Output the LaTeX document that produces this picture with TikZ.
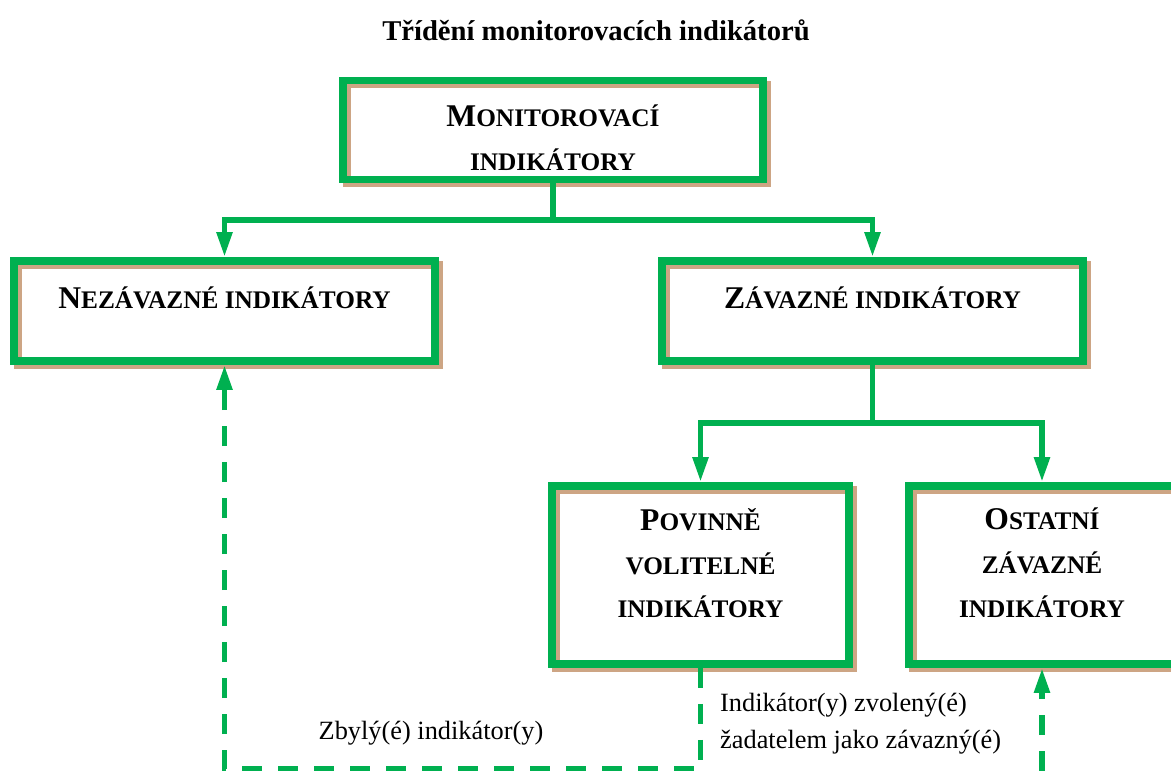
\documentclass[tikz,border=0pt]{standalone}
\usepackage{fontspec}
\setmainfont{Liberation Serif}
\usepackage{xcolor}
\usepackage{tikz}
\usetikzlibrary{arrows.meta,positioning}
\definecolor{zelena}{RGB}{0,176,80}
\definecolor{stin}{RGB}{205,165,132}
\newcommand{\kap}[2]{{\fontsize{18}{25}\selectfont #1}{\fontsize{14.4}{25}\selectfont #2}}

\begin{document}
\begin{tikzpicture}[x=0.02cm,y=-0.02cm]
	\tikzstyle{box} = [draw = zelena, line width = 0.15cm, align = center,
		font = \fontsize{18}{25}\selectfont\bfseries,
		preaction = {draw = stin, transform canvas = {shift = {(4,4)}}}]
	\tikzstyle{conn} = [draw = zelena, line width = 0.11cm, -{Triangle[length = 0.5cm, width = 0.3cm]}]
	\tikzstyle{dline} = [conn, dash pattern = on 0.4cm off 0.32cm]
	\tikzstyle{popis} = [font = \fontsize{15}{21}\selectfont]
\useasboundingbox (0,0) rectangle (1171,771);
\node[font = \fontsize{16.3}{20}\selectfont\bfseries] (title) at (596,30) {Třídění monitorovacích indikátorů};
\node[box, minimum width = 8.4cm, minimum height = 1.98cm] (mon) at (553,130) {\rule{0pt}{0.74cm}\kap{M}{ONITOROVACÍ}\\ \kap{}{INDIKÁTORY}};
\node[box, minimum width = 8.43cm, minimum height = 2.01cm] (nez) at (224.5,311) {\kap{N}{EZÁVAZNÉ INDIKÁTORY}\\[-0.35cm]\mbox{}};
\node[box, minimum width = 8.43cm, minimum height = 2.01cm] (zav) at (872.5,311) {\kap{Z}{ÁVAZNÉ INDIKÁTORY}\\[-0.35cm]\mbox{}};
\node[box, minimum width = 5.95cm, minimum height = 3.57cm] (pov) at (700.5,575) {\kap{P}{OVINNĚ}\\ \kap{}{VOLITELNÉ}\\ \kap{}{INDIKÁTORY}\\[-0.4cm]\mbox{}};
\node[box, minimum width = 5.33cm, minimum height = 3.57cm] (ost) at (1042,575) {\kap{O}{STATNÍ}\\ \kap{}{ZÁVAZNÉ}\\ \kap{}{INDIKÁTORY}\\[-0.4cm]\mbox{}};
% vetveni
\coordinate (b1) at (553,220);
\coordinate (b2) at (872.5,423);
	\path[conn] (mon.south) -- (b1) -| (nez.north);
	\path[conn] (b1) -| (zav.north);
	\path[conn] (zav.south) -- (b2) -| (pov.north);
	\path[conn] (b2) -| (ost.north);
% carkovane
\coordinate (c1) at (700.5,769);
\coordinate (c2) at (224.5,769);
\coordinate (c3) at (1042,771);
	\path[dline] (pov.south) -- (c1) -- (c2) -- (nez.south);
	\path[dline] (c3) -- (ost.south);
\node[popis] (zbyle) at (431,733) {Zbylý(é) indikátor(y)};
\node[popis, align = left, anchor = west] (zvolene) at (714,724) {Indikátor(y) zvolený(é)\\ žadatelem jako závazný(é)};
\end{tikzpicture}
\end{document}
